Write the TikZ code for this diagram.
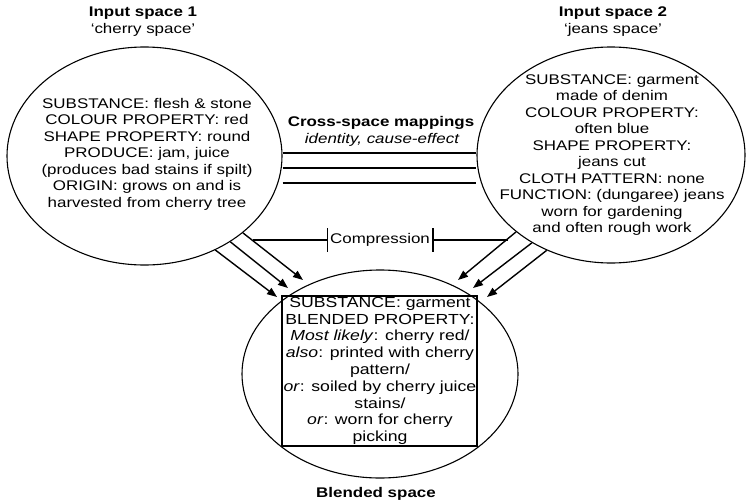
\documentclass[tikz,border=0pt]{standalone}
\usepackage{fontspec}
\setmainfont{Liberation Sans}[FakeStretch=1.21]
\usetikzlibrary{shapes.geometric,arrows.meta}
\begin{document}
\begin{tikzpicture}[x=1pt,y=-1pt,
  space/.style={draw, ellipse, line width=1.1pt, inner sep=0pt},
  info/.style={align=center, inner sep=0pt, font=\fontsize{14}{16.5}\selectfont},
  blendinfo/.style={align=center, inner sep=0pt, font=\fontsize{14.6}{16.8}\selectfont},
  title/.style={inner sep=0pt, font=\fontsize{14}{16}\selectfont\bfseries},
  subtitle/.style={inner sep=0pt, font=\fontsize{14}{16}\selectfont},
  map/.style={line width=1.3pt},
  proj/.style={line width=1.4pt, -{Triangle[length=10pt,width=7.5pt]}},
  bar/.style={line width=1.8pt}
]
\useasboundingbox (0,0) rectangle (746,503);

% input spaces
\node[space, minimum width=275pt, minimum height=218pt] (L) at (144.5,156) {};
\node[space, minimum width=268pt, minimum height=216pt] (R) at (611,155) {};
\node[space, minimum width=276pt, minimum height=208pt] (B) at (380,374) {};
\node[draw, line width=1.2pt, minimum width=195pt, minimum height=150pt, inner sep=0pt] (box) at (379.5,371) {};

% titles
\node[title] (t1) at (143,13) {Input space 1};
\node[subtitle] (t1b) at (143,30) {‘cherry space’};
\node[title] (t2) at (613,13) {Input space 2};
\node[subtitle] (t2b) at (613,30) {‘jeans space’};
\node[title] (tb) at (376,494) {Blended space};
\node[title] (tm) at (381,123) {Cross-space mappings};
\node[subtitle, font=\fontsize{14}{16}\selectfont\itshape] (tmb) at (382,140) {identity, cause-effect};

% contents
\node[info] (Ltext) at (147,154) {SUBSTANCE: flesh \& stone\\
COLOUR PROPERTY: red\\
SHAPE PROPERTY: round\\
PRODUCE: jam, juice\\
(produces bad stains if spilt)\\
ORIGIN: grows on and is\\
harvested from cherry tree};

\node[info] (Rtext) at (612,155) {SUBSTANCE: garment\\
made of denim\\
COLOUR PROPERTY:\\
often blue\\
SHAPE PROPERTY:\\
jeans cut\\
CLOTH PATTERN: none\\
FUNCTION: (dungaree) jeans\\
worn for gardening\\
and often rough work};

\node[blendinfo] (Btext) at (380,371) {SUBSTANCE: garment\\
BLENDED PROPERTY:\\
\textit{Most likely}: cherry red/\\
\textit{also}: printed with cherry\\
pattern/\\
\textit{or}: soiled by cherry juice\\
stains/\\
\textit{or}: worn for cherry\\
picking};

% cross-space mappings
\draw[map] (L.east |- 0,153) -- (R.west |- 0,153);
\draw[map] (L.east |- 0,168) -- (R.west |- 0,168);
\draw[map] (L.east |- 0,183) -- (R.west |- 0,183);

% projections
\coordinate (le1) at (303,280);
\coordinate (le2) at (288,288);
\coordinate (le3) at (277,297);
\coordinate (re1) at (458,280);
\coordinate (re2) at (473,288);
\coordinate (re3) at (487,297);
\draw[proj] (L.-38) -- (le1);
\draw[proj] (L.-45) -- (le2);
\draw[proj] (L.-53) -- (le3);
\draw[proj] (R.-141) -- (re1);
\draw[proj] (R.-132) -- (re2);
\draw[proj] (R.-124) -- (re3);

% compression
\coordinate (cl) at (253,240);
\coordinate (cr) at (508,240);
\node[subtitle, inner xsep=2.5pt] (comp) at (380,240) {Compression};
\draw[map] (cl) -- (comp.west);
\draw[map] (comp.east) -- (cr);
\draw[bar] ([yshift=12pt]comp.west) -- ([yshift=-12pt]comp.west);
\draw[bar] ([yshift=12pt]comp.east) -- ([yshift=-12pt]comp.east);
\end{tikzpicture}
\end{document}
